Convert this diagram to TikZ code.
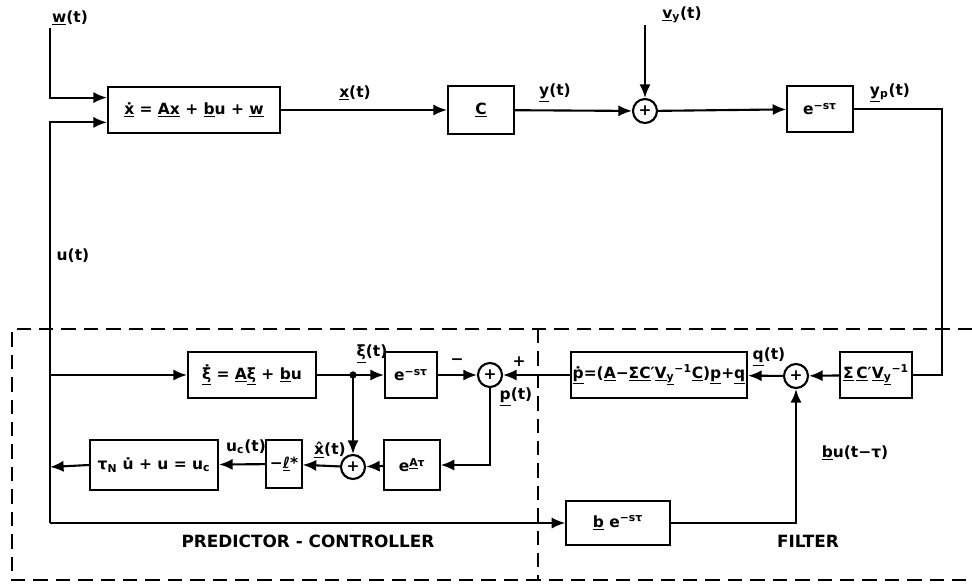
\documentclass[tikz,border=0pt]{standalone}
\usepackage{amsmath}
\usepackage{fontspec}
\setmainfont{DejaVu Sans}
\usepackage{tikz}
\usetikzlibrary{arrows.meta, positioning, calc}
\newcommand{\vu}[1]{\underline{#1}}
\newcommand{\sps}[1]{$^{\text{#1}}$}
\newcommand{\sbs}[1]{$_{\text{#1}}$}
\tikzset{
  blk/.style={rectangle, draw, line width=1.5pt, inner sep=2pt,
    minimum height=1.15cm, align=center},
  sumc/.style={circle, draw, line width=1.5pt, minimum size=0.6cm,
    inner sep=0pt},
  lbl/.style={inner sep=1pt},
  arr/.style={-{Latex[length=3.4mm,width=2.8mm]}, line width=1.5pt},
  line/.style={line width=1.5pt},
  frame/.style={line width=1.8pt, dash pattern=on 0.36cm off 0.2cm}
}

\begin{document}
\begin{tikzpicture}[x=0.025cm, y=-0.025cm, font=\fontsize{11}{13}\selectfont\bfseries]
  \useasboundingbox (0,0) rectangle (972,586);

  % plant
  \node[blk, minimum width=4.3cm] (sys) at (194,110) {\vu{\.{x}} = \vu{A}\vu{x} + \vu{b}u + \vu{w}};
  \node[blk, minimum width=1.65cm, minimum height=1.2cm] (cmat) at (481,110) {\vu{C}};
  \node[sumc] (s1) at (645,111) {+};
  \node[blk, minimum width=1.63cm] (dly1) at (820,109) {e\sps{−sτ}};

  % predictor-controller
  \node[blk, minimum width=3.2cm] (xi) at (252,375) {\vu{\.{ξ}} = \vu{A}\vu{ξ} + \vu{b}u};
  \node[blk, minimum width=1.3cm] (dly2) at (411,375) {e\sps{−sτ}};
  \node[sumc] (s2) at (490,375) {+};
  \node[sumc] (s4) at (353,467) {+};
  \node[blk, minimum width=1.38cm, minimum height=1.25cm] (eat) at (412,465) {e\sps{\vu{A}τ}};
  \node[blk, minimum width=0.88cm, minimum height=1.2cm, inner sep=0pt] (lbox) at (284,464) {−\vu{ℓ}*};
  \node[blk, minimum width=3.2cm, minimum height=1.25cm] (tau) at (154,465) {τ\sbs{N} u̇ + u = u\sbs{c}};

  % filter
  \node[blk, minimum width=4.4cm, inner sep=1pt] (pbox) at (659,375) {\vu{\.{p}}=(\vu{A}−\vu{Σ}\vu{C}′\vu{V}\sbs{\vu{y}}\sps{−1}\vu{C})\vu{p}+\vu{q}};
  \node[sumc] (s3) at (796,376) {+};
  \node[blk, minimum width=1.8cm] (cv) at (876,375) {\vu{Σ}\,\vu{C}′\vu{V}\sbs{\vu{y}}\sps{−1}};
  \node[blk, minimum width=2.58cm, minimum height=1.12cm] (be) at (618,523) {\vu{b} e\sps{−sτ}};

  % points on the lines
  \coordinate (wtop) at (50,28);
  \coordinate (vtop) at (645,25);
  \coordinate (ubot) at (50,523);
  \coordinate (uxi) at (50,375);
  \coordinate (utau) at (50,467);
  \coordinate (br) at (353,375);
  \coordinate (rc) at (942,375);

  % labels
  \node[lbl] (lw) at (70,18) {\vu{w}(t)};
  \node[lbl] (lx) at (355,93) {\vu{x}(t)};
  \node[lbl] (ly) at (555,93) {\vu{y}(t)};
  \node[lbl] (lv) at (682,15) {\vu{v}\sbs{y}(t)};
  \node[lbl] (lyp) at (890,93) {\vu{y}\sbs{p}(t)};
  \node[lbl] (lu) at (73,256) {u(t)};
  \node[lbl] (lxi) at (372,354) {\vu{ξ}(t)};
  \node[lbl] (lm) at (457,362) {−};
  \node[lbl] (lpl) at (519,362) {+};
  \node[lbl] (lp) at (516,397) {\vu{p}(t)};
  \node[lbl] (lq) at (769,357) {\vu{q}(t)};
  \node[lbl] (lxh) at (330,450) {\vu{\^{x}}(t)};
  \node[lbl] (luc) at (246,447) {u\sbs{c}(t)};
  \node[lbl] (lbu) at (855,453) {\vu{b}u(t−τ)};
  \node[lbl, font=\fontsize{12}{14}\selectfont\bfseries] (lpc) at (308,541) {PREDICTOR - CONTROLLER};
  \node[lbl, font=\fontsize{12}{14}\selectfont\bfseries] (lfi) at (808,541) {FILTER};

  % upper loop
  \draw[arr] (wtop) |- ([yshift=0.31cm]sys.west);
  \draw[arr] (ubot) |- ([yshift=-0.31cm]sys.west);
  \draw[arr] (sys) -- (cmat);
  \draw[arr] (cmat) -- (s1);
  \draw[arr] (vtop) -- (s1);
  \draw[arr] (s1) -- (dly1);
  \draw[line] (dly1.east) -| (rc) -- (cv.east);

  % filter paths
  \draw[arr] (cv) -- (s3);
  \draw[arr] (s3) -- (pbox);
  \draw[arr] (pbox) -- (s2);
  \draw[arr] (ubot) -- (be);
  \draw[arr] (be.east) -| (s3.south);

  % predictor-controller paths
  \draw[arr] (uxi) -- (xi);
  \draw[line] (xi.east) -- (br);
  \fill (br) circle (2.6pt);
  \draw[arr] (br) -- (dly2);
  \draw[arr] (br) -- (s4);
  \draw[arr] (dly2) -- (s2);
  \draw[arr] (s2.south) |- (eat.east);
  \draw[arr] (eat) -- (s4);
  \draw[arr] (s4) -- (lbox);
  \draw[arr] (lbox) -- (tau);
  \draw[arr] (tau.west) -- (utau);

  % dashed frames
  \draw[frame] (972,329) -- (12,329) -- (12,580) -- (972,580);
  \draw[frame] (538,329) -- (538,580);
\end{tikzpicture}
\end{document}
